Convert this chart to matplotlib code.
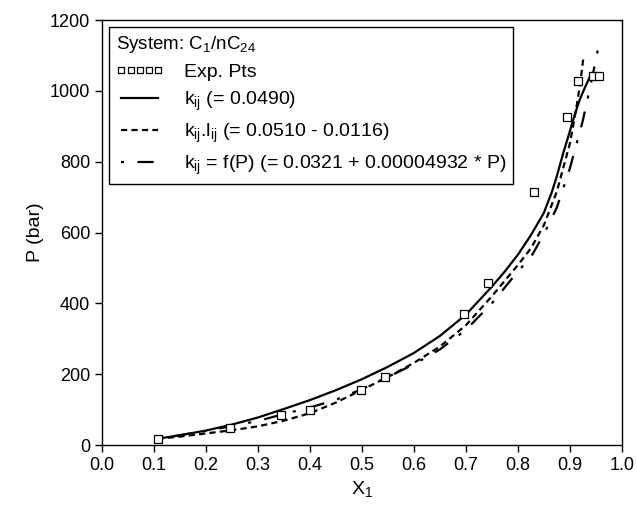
import numpy as np
import matplotlib
matplotlib.use("Agg")
import matplotlib.pyplot as plt

plt.rcParams['font.family'] = ['Liberation Sans', 'DejaVu Sans']
plt.rcParams['mathtext.default'] = 'regular'

# experimental points
x_exp = [0.107, 0.247, 0.345, 0.401, 0.498, 0.544, 0.697, 0.743, 0.831, 0.894, 0.916, 0.944, 0.956]
p_exp = [18, 47, 84, 99, 155, 193, 370, 457, 715, 925, 1027, 1043, 1043]

# kij (= 0.0490)
x_kij = [0.107, 0.15, 0.2, 0.25, 0.3, 0.35, 0.4, 0.45, 0.5, 0.55, 0.6, 0.65, 0.7,
         0.75, 0.775, 0.8, 0.825, 0.85, 0.865, 0.875, 0.887, 0.9, 0.91, 0.92, 0.93, 0.942]
p_kij = [18, 28, 41, 58, 78, 102, 127, 155, 186, 221, 260, 308, 368,
         447, 490, 537, 592, 655, 712, 758, 822, 885, 935, 978, 1012, 1050]

# kij.lij (= 0.0510 - 0.0116)
x_lij = [0.107, 0.15, 0.2, 0.25, 0.3, 0.35, 0.4, 0.45, 0.5, 0.55, 0.6, 0.65, 0.7,
         0.75, 0.8, 0.825, 0.85, 0.875, 0.9, 0.912, 0.92, 0.926]
p_lij = [18, 24, 33, 42, 53, 69, 90, 120, 156, 192, 232, 278, 338,
         420, 508, 555, 620, 715, 850, 945, 1020, 1090]

# kij = f(P)
x_fp = [0.107, 0.15, 0.2, 0.25, 0.3, 0.35, 0.4, 0.45, 0.5, 0.55, 0.6, 0.65, 0.7,
        0.75, 0.775, 0.8, 0.825, 0.85, 0.875, 0.9, 0.925, 0.94, 0.958]
p_fp = [18, 28, 40, 54, 68, 88, 106, 128, 158, 192, 228, 270, 325,
        400, 445, 490, 530, 595, 670, 780, 915, 1015, 1144]

fig = plt.figure(figsize=(6.37, 5.14), dpi=100)
ax = fig.add_axes([0.160, 0.134, 0.816, 0.827])

ax.plot(x_exp, p_exp, linestyle='none', marker='s', markersize=5.5,
        markerfacecolor='white', markeredgecolor='black', markeredgewidth=0.9,
        label='Exp. Pts', zorder=3)
ax.plot(x_kij, p_kij, color='black', lw=1.6, label='k$_{ij}$ (= 0.0490)')
ax.plot(x_lij, p_lij, color='black', lw=1.6, linestyle=(0, (2.8, 1.9)),
        label='k$_{ij}$.l$_{ij}$ (= 0.0510 - 0.0116)')
ax.plot(x_fp, p_fp, color='black', lw=1.6, linestyle=(0, (1.4, 6.0, 7.3, 6.0)),
        label='k$_{ij}$ = f(P) (= 0.0321 + 0.00004932 * P)')

ax.set_xlim(0, 1.0)
ax.set_ylim(0, 1200)
ax.set_xticks(np.arange(0, 1.01, 0.1))
ax.set_xticklabels([f"{v:.1f}" for v in np.arange(0, 1.01, 0.1)])
ax.set_yticks(np.arange(0, 1201, 200))
ax.tick_params(direction='out', length=5, width=1, labelsize=13)
for s in ax.spines.values():
    s.set_linewidth(1.0)

ax.set_xlabel('X$_1$', fontsize=14)
ax.set_ylabel('P (bar)', fontsize=14)

leg = ax.legend(loc='upper left', title='System: C$_1$/nC$_{24}$', title_fontsize=13.5,
                fontsize=14, numpoints=5, handlelength=2.5, handletextpad=1.0,
                fancybox=False, edgecolor='black', framealpha=1, borderaxespad=0.35,
                alignment='left', labelspacing=0.45, markerscale=0.7,
                borderpad=0.35)
leg.get_frame().set_linewidth(1.0)

fig.savefig('out.png', dpi=100)
